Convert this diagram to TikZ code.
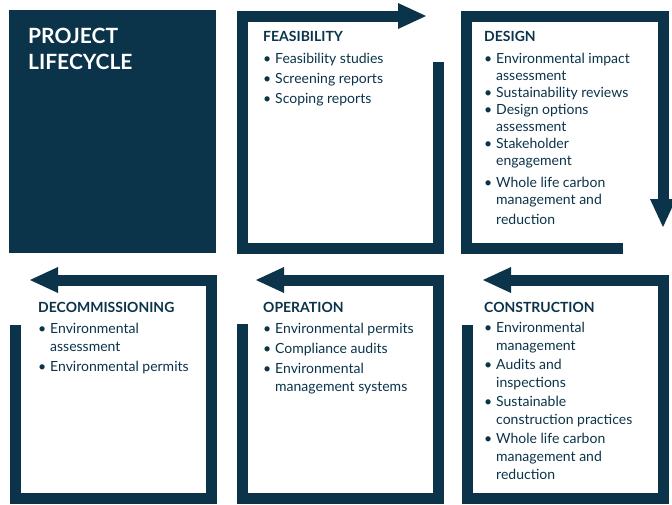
\documentclass[tikz,border=0pt]{standalone}
\usepackage{fontspec}
\setmainfont{Lato}
\usetikzlibrary{arrows.meta,positioning}
\definecolor{lcnavy}{HTML}{0B3349}
\newcommand{\bul}{\makebox[12pt][l]{\textbullet}}
\newcommand{\ind}{\hspace*{12pt}}
\tikzset{%
stageframe/.style={draw=lcnavy, line width=11pt, line join=miter, -{Triangle[length=28pt,width=26pt,line width=0pt]}},
stagehead/.style={anchor=base west, inner sep=0pt, text=lcnavy, font=\fontsize{14}{16}\selectfont\bfseries},
stagelist/.style={anchor=base west, inner sep=0pt, align=left, text=lcnavy, font=\fontsize{14}{18}\selectfont},
titletext/.style={anchor=base west, inner sep=0pt, align=left, text=white, font=\fontsize{21}{26}\selectfont\bfseries}
}
\begin{document}
\begin{tikzpicture}[x=1pt, y=-1pt]
	\useasboundingbox (0,0) rectangle (672,504);
	% title block
	\fill[lcnavy] (9,10) rectangle (216,253);
	\node[titletext] (title) at (28,69) {PROJECT\\LIFECYCLE};

	% frames, clockwise
	\draw[stageframe] (438,62) -- (438,248) -- (242,248) -- (242,16) -- (426,16);
	\draw[stageframe] (623,248) -- (466,248) -- (466,16) -- (663,16) -- (663,227);
	\draw[stageframe] (467,325) -- (467,498) -- (663,498) -- (663,280) -- (483,280);
	\draw[stageframe] (242,324) -- (242,498) -- (438,498) -- (438,280) -- (256,280);
	\draw[stageframe] (15,325) -- (15,498) -- (211,498) -- (211,280) -- (30,280);

	% feasibility (lists sit on their last baseline)
	\node[stagehead] (feashead) at (263,41) {FEASIBILITY};
	\node[stagelist] (feaslist) at ([yshift=-62pt]feashead.base west)
		{\bul Feasibility studies\\[2pt] \bul Screening reports\\[2pt] \bul Scoping reports};

	% design
	\node[stagehead] (deshead) at (484,41) {DESIGN};
	\node[stagelist, font=\fontsize{14}{17}\selectfont] (deslist) at ([yshift=-183pt]deshead.base west)
		{\bul Environmental impact\\ \ind assessment\\ \bul Sustainability reviews\\
		 \bul Design options\\ \ind assessment\\ \bul Stakeholder\\ \ind engagement\\[5pt]
		 \bul Whole life carbon\\ \ind management and\\[3pt] \ind reduction};

	% construction
	\node[stagehead] (conhead) at (484,312) {CONSTRUCTION};
	\node[stagelist] (conlist) at ([yshift=-167pt]conhead.base west)
		{\bul Environmental\\ \ind management\\[1pt] \bul Audits and\\ \ind inspections\\[1pt]
		 \bul Sustainable\\ \ind construction practices\\[1pt] \bul Whole life carbon\\
		 \ind management and\\ \ind reduction};

	% operation
	\node[stagehead] (ophead) at (263,312) {OPERATION};
	\node[stagelist] (oplist) at ([yshift=-79pt]ophead.base west)
		{\bul Environmental permits\\[2pt] \bul Compliance audits\\[2pt] \bul Environmental\\
		 \ind management systems};

	% decommissioning
	\node[stagehead] (dechead) at (38,312) {DECOMMISSIONING};
	\node[stagelist] (declist) at ([yshift=-59pt]dechead.base west)
		{\bul Environmental\\ \ind assessment\\[2pt] \bul Environmental permits};
\end{tikzpicture}
\end{document}
